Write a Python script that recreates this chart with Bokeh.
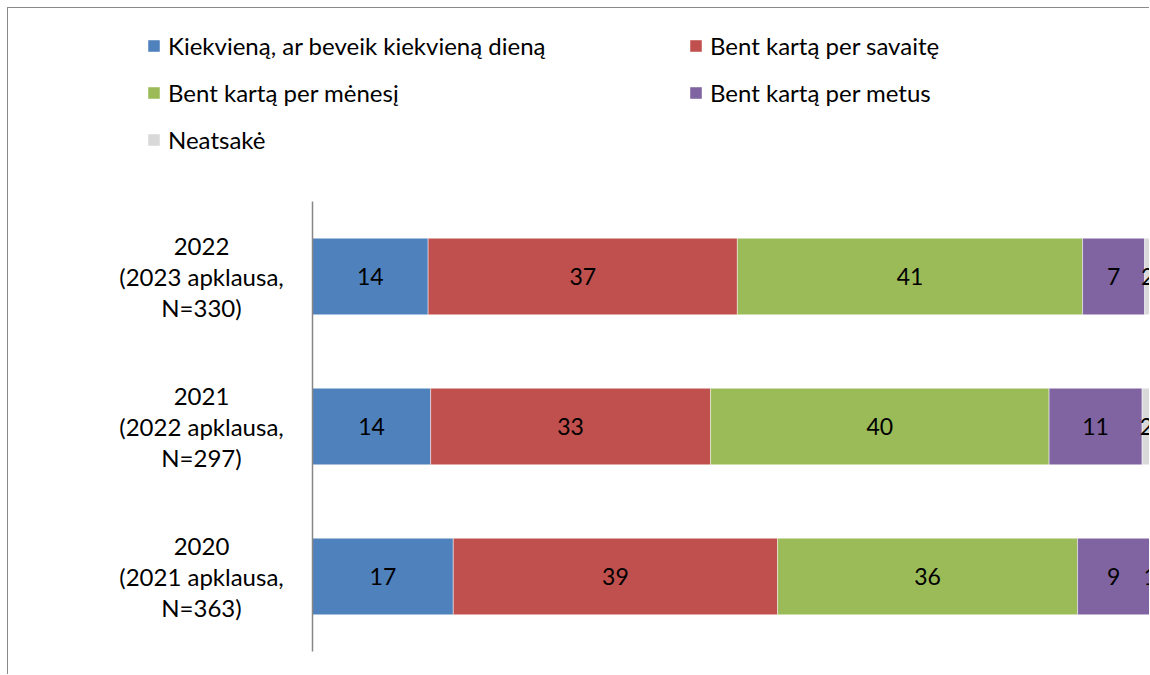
import numpy as np
from bokeh.plotting import figure
from bokeh.models import ColumnDataSource, Range1d, Legend, LegendItem, FixedTicker, LinearAxis
from bokeh.core.properties import value
from bokeh.embed import file_html
from bokeh.resources import INLINE

# ---- data (bottom to top) ----
years = ["2020", "2021", "2022"]
year_labels = ["2020\n(2021 apklausa,\nN=363)",
               "2021\n(2022 apklausa,\nN=297)",
               "2022\n(2023 apklausa,\nN=330)"]
series = ["Kiekvieną, ar beveik kiekvieną dieną",
          "Bent kartą per savaitę",
          "Bent kartą per mėnesį",
          "Bent kartą per metus",
          "Neatsakė"]
daily = [16.8, 14.1, 13.8]
weekly = [38.7, 33.4, 36.9]
monthly = [35.8, 40.4, 41.2]
yearly = [8.6, 11.1, 7.4]
no_answer = [1.0, 2.0, 1.6]
colors = ["#4F81BD", "#C0504D", "#9BBB59", "#8064A2", "#D9D9D9"]

FONT = "Lato"

# ---- layout constants (pixels) ----
W, H = 1142, 667            # figure size (after 7px margin + 1px border)
AXIS_PX = 304               # distance of the value axis from the figure's left edge
PX_PER_UNIT = (W - AXIS_PX) / 100.0
ROW_PX = 150                # distance between category rows
TOP_ROW_PX = 268            # centre of top row from figure top
LABEL_CENTER_PX = 193       # centre of category labels from figure left

pos = list(range(len(years)))
keys = ["s0", "s1", "s2", "s3", "s4"]
source = ColumnDataSource(dict(pos=pos, s0=daily, s1=weekly, s2=monthly, s3=yearly, s4=no_answer))

y_top = (len(years) - 1) + TOP_ROW_PX / ROW_PX
y_bot = y_top - H / ROW_PX
x_start = -AXIS_PX / PX_PER_UNIT

p = figure(width=W, height=H, x_range=Range1d(x_start, 100), y_range=Range1d(y_bot, y_top),
           output_backend="svg", toolbar_location=None,
           x_axis_location=None, y_axis_location=None,
           min_border_left=0, min_border_right=0, min_border_top=0, min_border_bottom=0)
p.styles = {"margin-left": "7px", "margin-top": "7px",
            "border-left": "1px solid #8a8a8a", "border-top": "1px solid #8a8a8a"}
p.grid.visible = False
p.outline_line_color = None

renderers = p.hbar_stack(keys, y="pos", height=0.51, color=colors, source=source,
                         line_color="white", line_alpha=0.45, line_width=1)

# value labels (centred on the visible part of each segment)
vals = np.array([daily, weekly, monthly, yearly, no_answer])
cum = np.cumsum(vals, axis=0)
starts = cum - vals
xmax = 100
lx, ly, lt = [], [], []
for i in range(vals.shape[0]):
    for j in pos:
        s = starts[i, j]
        e = min(cum[i, j], xmax)
        if s < xmax:
            lx.append((s + e) / 2)
            ly.append(j)
            lt.append(str(int(round(vals[i, j]))))
p.text(x="x", y="y", text="t", source=ColumnDataSource(dict(x=lx, y=ly, t=lt)),
       text_align="center", text_baseline="middle",
       text_font=value(FONT), text_font_size="23px", text_color="#000000")

# category labels
cat_x = (LABEL_CENTER_PX - AXIS_PX) / PX_PER_UNIT
p.text(x=[cat_x] * len(years), y=pos, text=year_labels,
       text_align="center", text_baseline="middle", text_line_height=1.08,
       text_font=value(FONT), text_font_size="24px", text_color="#000000")

# category axis line at x = 0
yax = LinearAxis(fixed_location=0, bounds=(-0.5, len(years) - 0.5), ticker=FixedTicker(ticks=[]),
                 axis_line_color="#868686", axis_line_width=1.5,
                 major_tick_line_color=None, minor_tick_line_color=None,
                 major_label_text_font_size="0px")
p.add_layout(yax, "left")

legend = Legend(items=[LegendItem(label=s, renderers=[r]) for s, r in zip(series, renderers)],
                orientation="horizontal", ncols=2, location=(138, 521),
                glyph_width=15, glyph_height=15, label_standoff=7, label_width=502,
                spacing=18, padding=0, margin=0,
                label_text_font=FONT, label_text_font_size="24px", label_text_color="#000000",
                border_line_color=None, background_fill_alpha=0)
p.add_layout(legend, "center")

open("out.html", "w").write(file_html(p, INLINE))
